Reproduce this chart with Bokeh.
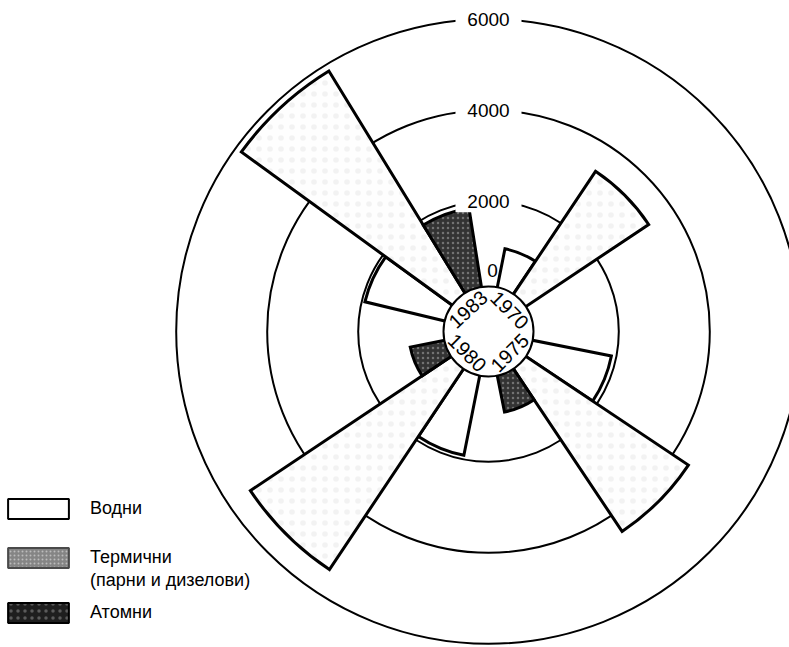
import math
from bokeh.plotting import figure
from bokeh.models import ColumnDataSource, Range1d, Legend, LegendItem
from bokeh.core.properties import value
from bokeh.embed import file_html
from bokeh.resources import INLINE

# ---- data (installed capacity) ----
years = ["1970", "1975", "1980", "1983"]
vodni = [990, 1890, 1910, 1930]          # Водни
termichni = [3370, 4420, 5430, 5850]     # Термични
atomni = [0, 940, 890, 1880]             # Атомни
ticks = [0, 2000, 4000, 6000]
tick_labels = ["0", "2000", "4000", "6000"]
series_labels = ["Водни", "Термични", "(парни и дизелови)", "Атомни"]

FONT = "Liberation Sans"
R0, K = 39.3, 0.0455     # radial scale: pixels at 0 and pixels per unit
HUB = 45.0               # radius of the central year disc
SLOT = 22.5              # angular width of one bar (degrees)
START = 11.25            # compass angle where the first year begins
YEAR_SHIFT = [0, 0, 0, 2.25]   # small drafting offsets of each year's group (degrees)


def rad(v):
    return R0 + K * v


def year_start(i):
    return START + 90 * i + YEAR_SHIFT[i]


W, H = 789, 647
CX, CY = 488, 331        # centre of the rose inside the frame

p = figure(width=W, height=H, x_range=Range1d(-CX, W - CX), y_range=Range1d(-(H - CY), CY),
           output_backend="svg", toolbar_location=None, min_border=0,
           x_axis_type=None, y_axis_type=None, outline_line_color=None,
           background_fill_color="white", border_fill_color="white")

# grid circles
grid_r = [rad(t) for t in ticks[1:]]
p.circle(x=[0] * len(grid_r), y=[0] * len(grid_r), radius=grid_r,
         fill_color=None, line_color="black", line_width=2)


def wedge_source(vals, j):
    starts, ends, rs = [], [], []
    for i, v in enumerate(vals):
        c0 = year_start(i) + SLOT * j
        c1 = c0 + SLOT
        starts.append(math.radians(90 - c1))
        ends.append(math.radians(90 - c0))
        rs.append(rad(v))
    return ColumnDataSource(dict(x=[0] * len(vals), y=[0] * len(vals), r=rs,
                                 start=starts, end=ends, year=years, val=vals))


wedge_styles = [
    dict(fill_color="white"),
    dict(fill_color="#fefefe", hatch_pattern="dot", hatch_color="#b0b0b0",
         hatch_alpha=0.15, hatch_scale=11),
    dict(fill_color="#333333", hatch_pattern="dot", hatch_color="#d0d0d0",
         hatch_alpha=0.4, hatch_scale=5),
]
for j, vals in enumerate([vodni, termichni, atomni]):
    p.wedge(x="x", y="y", radius="r", start_angle="start", end_angle="end",
            source=wedge_source(vals, j), line_color="black", line_width=3,
            line_join="miter", **wedge_styles[j])

# central disc
p.circle(x=[0], y=[0], radius=HUB, fill_color="white", line_color="black", line_width=2)

# tick labels on the grid circles (with white gap)
lab_src = ColumnDataSource(dict(x=[0] * 3, y=grid_r, t=tick_labels[1:]))
p.rect(x="x", y="y", width=66, height=22, width_units="screen", height_units="screen",
       source=lab_src, fill_color="white", line_color=None)
p.text(x="x", y="y", text="t", source=lab_src, text_align="center", text_baseline="middle",
       text_font=value(FONT), text_font_size="19px", text_color="black")
p.text(x=[0], y=[rad(ticks[0])], text=[tick_labels[0]], x_offset=4, y_offset=-22,
       text_align="center", text_baseline="middle",
       text_font=value(FONT), text_font_size="19px", text_color="black")

# year labels inside the disc
yx, yy, ya = [], [], []
for i in range(len(years)):
    mid = year_start(i) + 1.5 * SLOT
    yx.append(30 * math.sin(math.radians(mid)))
    yy.append(30 * math.cos(math.radians(mid)))
    rot = -mid if math.cos(math.radians(mid)) > 0 else 180 - mid
    ya.append(math.radians(rot))
p.text(x=yx, y=yy, text=years, angle=ya, text_align="center", text_baseline="middle",
       text_font=value(FONT), text_font_size="20px", text_color="black")

# legend (swatches styled as in the original key); the swatch renderers sit off-screen
swatch_styles = [
    dict(fill_color="white", line_color="black", line_width=2),
    dict(fill_color="#858585", line_color="#4a4a4a", line_width=2, hatch_pattern="dot",
         hatch_color="white", hatch_alpha=0.45, hatch_scale=4),
    dict(fill_alpha=0, line_alpha=0),
    dict(fill_color="#1e1e1e", line_color="black", line_width=2, hatch_pattern="dot",
         hatch_color="#cccccc", hatch_alpha=0.35, hatch_scale=7),
]
legend_locs = [(0, 126.5), (0, 77.5), (0, 54.5), (0, 22.5)]
for lbl, st, loc in zip(series_labels, swatch_styles, legend_locs):
    rr = p.rect(x="x", y="y", width=1, height=1,
                source=ColumnDataSource(dict(x=[1e6], y=[1e6])), **st)
    leg = Legend(items=[LegendItem(label=value(lbl), renderers=[rr])], location=loc,
                 glyph_width=76, glyph_height=25, label_standoff=14, padding=0, margin=0,
                 spacing=0, border_line_color=None, background_fill_alpha=0,
                 label_text_font=FONT, label_text_font_size="18px", label_height=20,
                 label_text_color="black")
    p.add_layout(leg)

open("out.html", "w").write(file_html(p, INLINE))
